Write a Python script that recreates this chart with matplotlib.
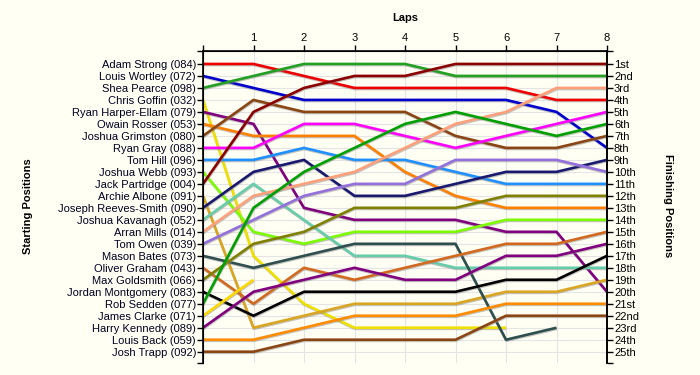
import matplotlib
matplotlib.use("Agg")
import matplotlib.pyplot as plt
import matplotlib.patheffects as pe

plt.rcParams['font.family'] = ['Liberation Sans', 'DejaVu Sans']

# starting grid, top to bottom
drivers = ['Adam Strong (084)', 'Louis Wortley (072)', 'Shea Pearce (098)',
           'Chris Goffin (032)', 'Ryan Harper-Ellam (079)', 'Owain Rosser (053)',
           'Joshua Grimston (080)', 'Ryan Gray (088)', 'Tom Hill (096)',
           'Joshua Webb (093)', 'Jack Partridge (004)', 'Archie Albone (091)',
           'Joseph Reeves-Smith (090)', 'Joshua Kavanagh (052)', 'Arran Mills (014)',
           'Tom Owen (039)', 'Mason Bates (073)', 'Oliver Graham (043)',
           'Max Goldsmith (066)', 'Jordan Montgomery (083)', 'Rob Sedden (077)',
           'James Clarke (071)', 'Harry Kennedy (089)', 'Louis Back (059)',
           'Josh Trapp (092)']

colours = ['#ee0000', '#0000cc', '#22a022', '#f0e000', '#800080', '#ff8000',
           '#8b4513', '#ff00ff', '#1e90ff', '#7cfc00', '#8b0000', '#daa520',
           '#191970', '#66cdaa', '#ffa07a', '#9370db', '#2f4f4f', '#d2691e',
           '#808000', '#000000', '#00a000', '#ffd700', '#800080', '#ff8c00',
           '#8b4513']

# position after each lap (lap 0 = grid); shorter lists = retired
laps = [0, 1, 2, 3, 4, 5, 6, 7, 8]
positions = [
    [1, 1, 2, 3, 3, 3, 3, 4, 4],
    [2, 3, 4, 4, 4, 4, 4, 5, 8],
    [3, 2, 1, 1, 1, 2, 2, 2, 2],
    [4, 17, 21, 23, 23, 23, 23],
    [5, 6, 13, 14, 14, 14, 15, 15, 20],
    [6, 7, 7, 7, 10, 12, 13, 13, 13],
    [7, 4, 5, 5, 5, 7, 8, 8, 7],
    [8, 8, 6, 6, 7, 8, 7, 6, 5],
    [9, 9, 8, 9, 9, 10, 11, 11, 11],
    [10, 15, 16, 15, 15, 15, 14, 14, 14],
    [11, 5, 3, 2, 2, 1, 1, 1, 1],
    [12, 23, 22, 21, 21, 21, 20, 20, 19],
    [13, 10, 9, 12, 12, 11, 10, 10, 9],
    [14, 11, 14, 17, 17, 18, 18, 18, 18],
    [15, 12, 11, 10, 8, 6, 5, 3, 3],
    [16, 14, 12, 11, 11, 9, 9, 9, 10],
    [17, 18, 17, 16, 16, 16, 24, 23],
    [18, 21, 18, 19, 18, 17, 16, 16, 15],
    [19, 16, 15, 13, 13, 13, 12, 12, 12],
    [20, 22, 20, 20, 20, 20, 19, 19, 17],
    [21, 13, 10, 8, 6, 5, 6, 7, 6],
    [22, 19],
    [23, 20, 19, 18, 19, 19, 17, 17, 16],
    [24, 24, 23, 22, 22, 22, 21, 21, 21],
    [25, 25, 24, 24, 24, 24, 22, 22, 22],
]

finish_labels = ['1st', '2nd', '3rd', '4th', '5th', '6th', '7th', '8th', '9th',
                 '10th', '11th', '12th', '13th', '14th', '15th', '16th', '17th',
                 '18th', '19th', '20th', '21st', '22nd', '23rd', '24th', '25th']

bg = '#fffff4'
fig = plt.figure(figsize=(7, 3.75), dpi=100, facecolor=bg)
ax = fig.add_axes([203/700, 1 - 362.5/375, 404/700, 311.5/375])
ax.set_facecolor(bg)

shadow = [pe.SimpleLineShadow(offset=(0.3, -0.8), shadow_color='#888888', alpha=0.5),
          pe.Normal()]
for pos, col in zip(positions, colours):
    ax.plot(laps[:len(pos)], pos, color=col, lw=1.9, solid_capstyle='butt',
            path_effects=shadow, zorder=3)

ylo, yhi = 25.9, -0.08
ax.set_xlim(0, 8)
ax.set_ylim(ylo, yhi)

ax.set_yticks(range(1, 26))
ax.set_yticklabels(drivers, fontsize=8, color='#000020')
ax.set_yticks([yhi, ylo], minor=True)
ax.xaxis.tick_top()
ax.set_xticks(laps[1:])
ax.set_xticklabels([str(l) for l in laps[1:]], fontsize=8)
ax.set_xticks([0], minor=True)
ax.tick_params(axis='both', which='both', length=4, width=1, pad=1)
ax.tick_params(axis='x', pad=2)

for l in laps[1:-1]:
    ax.axvline(l, color='#e4e4e4', lw=0.8, zorder=1)
for p in range(1, 26):
    ax.axhline(p, color='#e4e4e4', lw=0.8, zorder=1)

ax.spines['bottom'].set_visible(False)
for s in ['left', 'right', 'top']:
    ax.spines[s].set_linewidth(1.2)

ax2 = ax.twinx()
ax2.set_ylim(ax.get_ylim())
ax2.set_yticks(range(1, 26))
ax2.set_yticklabels(finish_labels, fontsize=8)
ax2.set_yticks([yhi, ylo], minor=True)
ax2.tick_params(axis='y', which='both', length=4, width=1, pad=1)
ax2.spines['bottom'].set_visible(False)
ax2.spines['right'].set_linewidth(1.2)

fig.text(405/700, 1 - 18/375, 'Laps', ha='center', va='center',
         fontsize=8, fontweight='bold')
fig.text(28/700, 1 - 206/375, 'Starting Positions', ha='center', va='center',
         rotation=90, fontsize=8, fontweight='bold')
fig.text(668/700, 1 - 206/375, 'Finishing Positions', ha='center', va='center',
         rotation=270, fontsize=8, fontweight='bold')

fig.savefig('out.png', dpi=100, facecolor=bg)
